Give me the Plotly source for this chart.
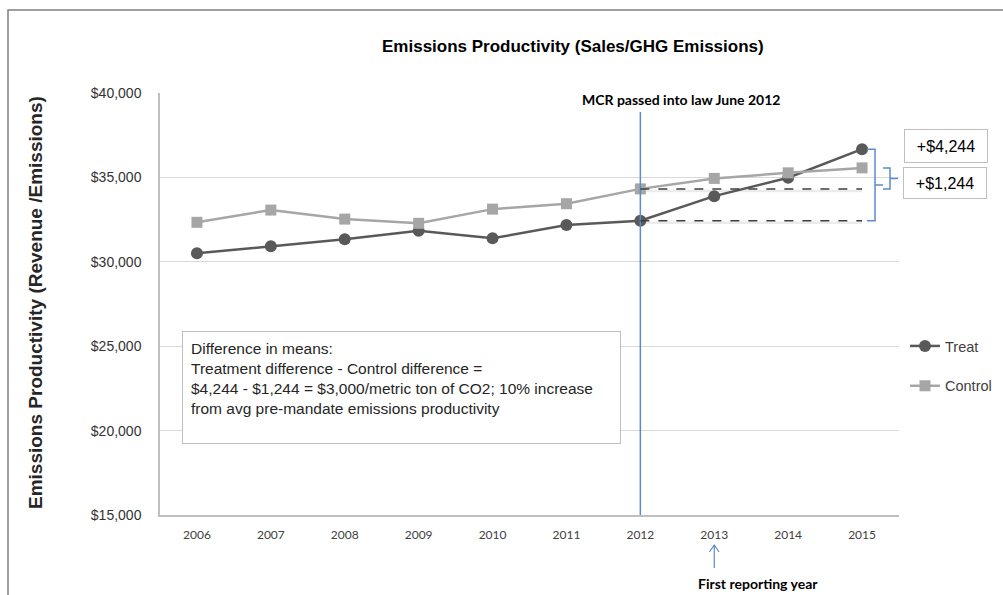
import plotly.graph_objects as go

# Emissions productivity (sales / GHG emissions), USD per metric ton CO2
years = ["2006", "2007", "2008", "2009", "2010", "2011", "2012", "2013", "2014", "2015"]
treat = [30500, 30920, 31330, 31840, 31390, 32180, 32430, 33890, 34980, 36674]
control = [32340, 33065, 32530, 32280, 33120, 33440, 34320, 34940, 35270, 35564]
y_ticks = [15000, 20000, 25000, 30000, 35000, 40000]

law_year = "2012"
first_report_year = "2013"
treat_gain_label = "+$4,244"
control_gain_label = "+$1,244"
note_text = ("Difference in means:<br>"
             "Treatment difference - Control difference =<br>"
             "$4,244 - $1,244 = $3,000/metric ton of CO2; 10% increase<br>"
             "from avg pre-mandate emissions productivity")

# plot-area geometry in pixels
W, H = 1003, 595
PL, PR, PT, PB = 160, 899, 93, 515


def px(x):
    return (x - PL) / (PR - PL)


def py(y):
    return (PB - y) / (PB - PT)


ARIAL = "Liberation Sans, Arial, sans-serif"
CALIBRI = "Lato, Carlito, Calibri, sans-serif"

fig = go.Figure()
fig.add_trace(go.Scatter(
    x=years, y=treat, name="Treat", mode="lines+markers",
    line=dict(color="#595959", width=2.5),
    marker=dict(symbol="circle", size=12, color="#595959"),
    legendgroup="t",
))
fig.add_trace(go.Scatter(
    x=years, y=control, name="Control", mode="lines+markers",
    line=dict(color="#A6A6A6", width=2.5),
    marker=dict(symbol="square", size=11, color="#A6A6A6"),
    legendgroup="c",
))

i_law = years.index(law_year)
i_last = len(years) - 1
shapes = []

# outer frame
shapes.append(dict(type="path", xref="paper", yref="paper",
                   path=f"M {px(8)},{py(700)} L {px(8)},{py(10)} L {px(1100)},{py(10)}",
                   line=dict(color="#808080", width=1.5)))

# law line
shapes.append(dict(type="line", xref="x", yref="paper", x0=i_law, x1=i_law,
                   y0=0, y1=py(112), line=dict(color="#5B8BC9", width=1.5)))

# dashed reference levels at the law year, with a soft shadow
for level in (treat[i_law], control[i_law]):
    shapes.append(dict(type="line", xref="x", yref="y", x0=i_law, x1=i_last,
                       y0=level - 120, y1=level - 120,
                       line=dict(color="#E3E3E3", width=2.5), opacity=0.7, layer="below"))
    shapes.append(dict(type="line", xref="x", yref="y", x0=i_law, x1=i_last,
                       y0=level, y1=level,
                       line=dict(color="#3F3F3F", width=1.5, dash="dash")))

BLUE = "#5B8BC9"
# large brace: treat change
t_top, t_bot = treat[i_last], treat[i_law]
t_mid = (t_top + t_bot) / 2
shapes.append(dict(type="path", xref="paper", yref="y",
                   path=(f"M {px(867)},{t_top} L {px(875)},{t_top} L {px(875)},{t_bot} "
                         f"L {px(867)},{t_bot} M {px(875)},{t_mid} L {px(883)},{t_mid}"),
                   line=dict(color=BLUE, width=1.5)))
# small brace: control change
c_top, c_bot = control[i_last], control[i_law]
c_mid = (c_top + c_bot) / 2
shapes.append(dict(type="path", xref="paper", yref="y",
                   path=(f"M {px(883)},{c_top} L {px(890)},{c_top} L {px(890)},{c_bot} "
                         f"L {px(883)},{c_bot} M {px(890)},{c_mid} L {px(898)},{c_mid}"),
                   line=dict(color=BLUE, width=1.5)))

# first reporting year arrow
i_rep = years.index(first_report_year)
shapes.append(dict(type="path", xref="x", yref="paper",
                   path=(f"M {i_rep},{py(568)} L {i_rep},{py(545)} "
                         f"M {i_rep - 0.065},{py(552)} L {i_rep},{py(545)} L {i_rep + 0.065},{py(552)}"),
                   line=dict(color=BLUE, width=1.2)))


def label(text, x, y, **kw):
    d = dict(text=text, xref="paper", yref="paper", x=px(x), y=py(y),
             xanchor="center", yanchor="middle", showarrow=False)
    d.update(kw)
    return d


annotations = [
    label("<b>Emissions Productivity (Sales/GHG Emissions)</b>", 573, 46,
          font=dict(family=ARIAL, size=17, color="#000000")),
    label("<b>Emissions Productivity (Revenue /Emissions)</b>", 35, 303, textangle=-90,
          font=dict(family=ARIAL, size=19, color="#262626")),
    label("<b>MCR passed into law June 2012</b>", 681, 99, bgcolor="white",
          font=dict(family=CALIBRI, size=14, color="#000000")),
    label("<b>First reporting year</b>", 758, 583,
          font=dict(family=CALIBRI, size=14, color="#000000")),
    label(treat_gain_label, 946, 146, width=78, height=28,
          bordercolor="#BFBFBF", borderwidth=1, borderpad=2, bgcolor="white",
          font=dict(family=ARIAL, size=16, color="#000000")),
    label(control_gain_label, 945, 183, width=78, height=26,
          bordercolor="#BFBFBF", borderwidth=1, borderpad=2, bgcolor="white",
          font=dict(family=ARIAL, size=16, color="#000000")),
    dict(text=note_text, xref="paper", yref="paper",
         x=px(182), y=py(331), xanchor="left", yanchor="top", showarrow=False,
         align="left", valign="top", width=421, height=95,
         bordercolor="#BFBFBF", borderwidth=1, borderpad=8, bgcolor="white",
         font=dict(family=ARIAL, size=15.5, color="#262626")),
]

fig.update_layout(
    width=W, height=H,
    margin=dict(l=PL, r=W - PR, t=PT, b=H - PB, autoexpand=False),
    paper_bgcolor="white", plot_bgcolor="white",
    showlegend=True,
    legend=dict(x=px(905), y=py(330), xanchor="left", yanchor="top",
                traceorder="grouped", tracegroupgap=18, itemwidth=30,
                font=dict(family=ARIAL, size=14.5, color="#404040"),
                bgcolor="rgba(0,0,0,0)"),
    shapes=shapes,
    annotations=annotations,
    xaxis=dict(type="category", range=[-0.5, len(years) - 0.5],
               showgrid=False, showline=True, linecolor="#BFBFBF", linewidth=1.5,
               ticks="", tickfont=dict(family=CALIBRI, size=12, color="#404040"),
               ticklabelstandoff=8, zeroline=False),
    yaxis=dict(range=[15000, 40000], tickvals=y_ticks, tickformat="$,.0f",
               showgrid=True, gridcolor="#D9D9D9", gridwidth=1.3,
               showline=True, linecolor="#BFBFBF", linewidth=1.5, ticks="",
               ticklabelstandoff=14, zeroline=False,
               tickfont=dict(family=ARIAL, size=14, color="#333333")),
)

fig.write_html("out.html")
